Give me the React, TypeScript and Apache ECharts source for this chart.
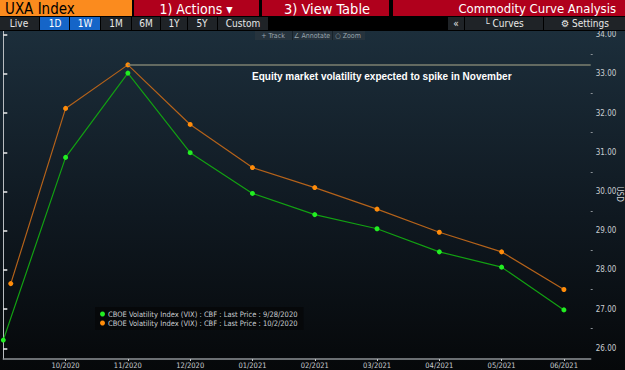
import React, { useEffect, useRef } from "react";
import * as echarts from "echarts";

// ---- Data ----
const monthLabels = ["10/2020", "11/2020", "12/2020", "01/2021", "02/2021", "03/2021", "04/2021", "05/2021", "06/2021"];
// x positions: 0 = spot point, 1..9 = futures contracts (Oct 2020 .. Jun 2021)
const greenX = [0, 1, 2, 3, 4, 5, 6, 7, 8, 9];
const greenY = [26.21, 30.87, 33.02, 30.99, 29.95, 29.41, 29.05, 28.46, 28.07, 26.98];
const orangeX = [0.12, 1, 2, 3, 4, 5, 6, 7, 8, 9];
const orangeY = [27.65, 32.12, 33.23, 31.71, 30.61, 30.1, 29.55, 28.96, 28.46, 27.5];
const yTickLabels = [26, 27, 28, 29, 30, 31, 32, 33, 34];
const yMinorTicks = [26.5, 27.5, 28.5, 29.5, 30.5, 31.5, 32.5, 33.5];
const greenName = "CBOE Volatility Index (VIX) : CBF : Last Price : 9/28/2020";
const orangeName = "CBOE Volatility Index (VIX) : CBF : Last Price : 10/2/2020";
const annotationText = "Equity market volatility expected to spike in November";
const yUnit = "USD";

const NARROW = "'Liberation Sans Narrow', 'DejaVu Sans Condensed', 'Arial Narrow', 'Liberation Sans', sans-serif";

export default function App() {
  const ref = useRef<HTMLDivElement>(null);

  useEffect(() => {
    if (!ref.current) return;
    const chart = echarts.init(ref.current, null, { renderer: "svg" });

    const xMin = 0;
    const xMax = 9.43;
    const yMin = 25.727;
    const yMax = 34.094;

    let peakIdx = 0;
    orangeY.forEach((v, i) => {
      if (v > orangeY[peakIdx]) peakIdx = i;
    });

    const rect = (x: number, y: number, w: number, h: number, fill: any, z = 100) => ({
      type: "rect",
      z,
      silent: true,
      shape: { x, y, width: w, height: h },
      style: { fill },
    });
    const txt = (
      x: number,
      y: number,
      text: string,
      fill: string,
      font: string,
      align = "left",
      z = 101
    ) => ({
      type: "text",
      z,
      silent: true,
      x,
      y,
      style: { text, fill, font, align, verticalAlign: "middle" },
    });

    const axisTextColor = "#c9cdd1";
    const btnFont = `10px ${NARROW}`;
    const graphic: any[] = [
      // chart background gradient
      rect(
        0,
        31,
        625,
        339,
        new echarts.graphic.LinearGradient(0, 0, 0, 1, [
          { offset: 0, color: "#1c2e3b" },
          { offset: 0.55, color: "#0f1820" },
          { offset: 1, color: "#06080a" },
        ]),
        -100
      ),
      // toolbar background
      rect(0, 0, 625, 31, "#000000", 99),
      // row 1
      rect(0, 0, 132, 16, "#fb8b1e"),
      rect(134, 0, 125, 16, "#b0001c"),
      rect(262, 0, 127, 16, "#b0001c"),
      rect(393, 0, 232, 16, "#b0001c"),
      txt(5, 8.5, "UXA Index", "#000000", `15px ${NARROW}`),
      txt(196, 8.5, "1) Actions \u25BE", "#ffffff", `14px ${NARROW}`, "center"),
      txt(327, 8.5, "3) View Table", "#ffffff", `14.5px ${NARROW}`, "center"),
      txt(616, 8.5, "Commodity Curve Analysis", "#ffffff", `13px ${NARROW}`, "right"),
      // row 2
      rect(0, 17, 39, 13, "#1f2327"),
      rect(40, 17, 29, 13, "#1565c8"),
      rect(70, 17, 30, 13, "#1565c8"),
      rect(101, 17, 30, 13, "#1f2327"),
      rect(132, 17, 28, 13, "#1f2327"),
      rect(161, 17, 26, 13, "#1f2327"),
      rect(188, 17, 29, 13, "#1f2327"),
      rect(218, 17, 50, 13, "#1f2327"),
      rect(448, 17, 16, 13, "#1f2327"),
      rect(465, 17, 78, 13, "#1f2327"),
      rect(544, 17, 81, 13, "#1f2327"),
      txt(19, 23.5, "Live", "#e8e8e8", btnFont, "center"),
      txt(55, 23.5, "1D", "#ffffff", btnFont, "center"),
      txt(85, 23.5, "1W", "#ffffff", btnFont, "center"),
      txt(116, 23.5, "1M", "#e8e8e8", btnFont, "center"),
      txt(146, 23.5, "6M", "#e8e8e8", btnFont, "center"),
      txt(174, 23.5, "1Y", "#e8e8e8", btnFont, "center"),
      txt(202, 23.5, "5Y", "#e8e8e8", btnFont, "center"),
      txt(243, 23.5, "Custom", "#e8e8e8", btnFont, "center"),
      txt(456, 23.5, "\u00AB", "#e8e8e8", btnFont, "center"),
      txt(504, 23.5, "\u2514 Curves", "#e8e8e8", btnFont, "center"),
      txt(585, 23.5, "\u2699 Settings", "#e8e8e8", btnFont, "center"),
      // Track / Annotate / Zoom bar
      rect(255, 31, 110, 9, "#26333d"),
      rect(292, 31, 1, 9, "#17222a"),
      rect(332, 31, 1, 9, "#17222a"),
      txt(273, 35.8, "+ Track", "#9aa6ae", `7px ${NARROW}`, "center"),
      txt(312, 35.8, "\u2220 Annotate", "#9aa6ae", `7px ${NARROW}`, "center"),
      txt(348, 35.8, "\u25CB Zoom", "#9aa6ae", `7px ${NARROW}`, "center"),
      // annotation text
      txt(252, 76.5, annotationText, "#ffffff", `bold 10px 'Liberation Sans', Arial, sans-serif`, "left", 50),
      // axis unit, rotated
      {
        type: "text",
        z: 50,
        silent: true,
        x: 619.5,
        y: 194,
        rotation: -Math.PI / 2,
        style: {
          text: yUnit,
          fill: axisTextColor,
          font: `8px ${NARROW}`,
          align: "center",
          verticalAlign: "middle",
        },
      },
    ];

    chart.setOption({
      animation: false,
      backgroundColor: "transparent",
      textStyle: { fontFamily: NARROW },
      grid: {
        left: 3.3,
        right: 34.3,
        top: 31,
        bottom: 11,
        containLabel: false,
        outerBoundsMode: "none",
      },
      xAxis: {
        type: "value",
        min: xMin,
        max: xMax,
        position: "bottom",
        splitLine: { show: false },
        axisLine: { show: true, lineStyle: { color: "#8e9296", width: 1.5 } },
        axisTick: {
          show: true,
          customValues: greenX.slice(1),
          length: 2,
          lineStyle: { color: "#c9cdd1" },
        },
        axisLabel: {
          show: true,
          customValues: greenX.slice(1),
          formatter: (v: number) => monthLabels[Math.round(v) - 1] ?? "",
          color: axisTextColor,
          fontSize: 7.5,
          fontFamily: NARROW,
          margin: 2,
        },
      },
      yAxis: [
        {
          type: "value",
          position: "right",
          min: yMin,
          max: yMax,
          splitLine: { show: false },
          axisLine: { show: true, lineStyle: { color: "#b8bcc0", width: 1 } },
          axisTick: {
            show: true,
            customValues: yTickLabels,
            length: 4,
            lineStyle: { color: "#eeeeee", width: 1.5 },
          },
          axisLabel: {
            show: true,
            customValues: yTickLabels,
            formatter: (v: number) => v.toFixed(2),
            color: axisTextColor,
            fontSize: 8,
            fontFamily: NARROW,
            margin: 5,
          },
        },
        {
          type: "value",
          position: "right",
          min: yMin,
          max: yMax,
          splitLine: { show: false },
          axisLine: { show: false },
          axisLabel: { show: false },
          axisTick: {
            show: true,
            customValues: yMinorTicks,
            length: 2,
            lineStyle: { color: "#8a9096" },
          },
        },
      ],
      legend: {
        show: true,
        data: [greenName, orangeName],
        orient: "vertical",
        left: 95,
        top: 307,
        padding: [3, 6, 3, 5],
        itemGap: 1,
        itemWidth: 5,
        itemHeight: 5,
        icon: "circle",
        backgroundColor: "#06080a",
        textStyle: { color: axisTextColor, fontSize: 7.5, fontFamily: NARROW, padding: [0, 0, 0, -2] },
        selectedMode: false,
      },
      graphic,
      series: [
        {
          name: greenName,
          type: "line",
          data: greenX.map((x, i) => [x, greenY[i]]),
          symbol: "circle",
          symbolSize: 5,
          showSymbol: true,
          itemStyle: { color: "#22ee22" },
          lineStyle: { color: "#12a012", width: 1.2 },
          z: 3,
        },
        {
          name: orangeName,
          type: "line",
          data: orangeX.map((x, i) => [x, orangeY[i]]),
          symbol: "circle",
          symbolSize: 5,
          showSymbol: true,
          itemStyle: { color: "#ff8c0a" },
          lineStyle: { color: "#b4621a", width: 1.2 },
          z: 3,
          markLine: {
            silent: true,
            symbol: "none",
            label: { show: false },
            lineStyle: { color: "#7c8170", width: 1.5, type: "solid" },
            data: [
              [
                { coord: [orangeX[peakIdx], orangeY[peakIdx]] },
                { coord: [xMax, orangeY[peakIdx]] },
              ],
            ],
          },
        },
      ],
    });

    return () => chart.dispose();
  }, []);

  return (
    <div
      ref={ref}
      style={{ position: "fixed", left: 0, top: 0, width: 625, height: 370, background: "#000" }}
    />
  );
}
